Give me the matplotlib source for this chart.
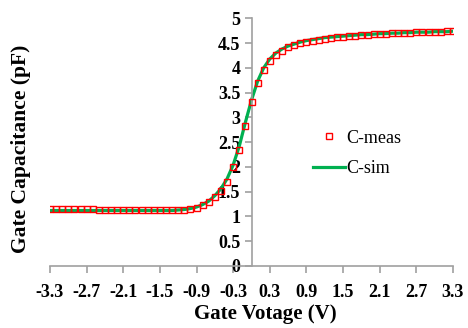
import matplotlib
matplotlib.use("Agg")
import matplotlib.pyplot as plt
import numpy as np

# gate voltage, 0.1 V steps
volts = np.round(np.arange(-3.3, 3.31, 0.1), 1)

c_meas = [
    1.15, 1.15, 1.15, 1.15, 1.15, 1.15, 1.15, 1.15, 1.14, 1.14,
    1.14, 1.14, 1.14, 1.14, 1.14, 1.14, 1.13, 1.13, 1.13, 1.13,
    1.13, 1.13, 1.14, 1.16, 1.18, 1.23, 1.30, 1.40, 1.52, 1.70,
    1.99, 2.34, 2.83, 3.31, 3.69, 3.95, 4.13, 4.26, 4.34, 4.42,
    4.46, 4.50, 4.53, 4.55, 4.57, 4.59, 4.61, 4.62, 4.63, 4.64,
    4.65, 4.66, 4.67, 4.68, 4.68, 4.69, 4.70, 4.70, 4.71, 4.71,
    4.72, 4.72, 4.73, 4.73, 4.73, 4.74, 4.74,
]
c_sim = [
    1.12, 1.12, 1.12, 1.12, 1.12, 1.12, 1.12, 1.12, 1.12, 1.12,
    1.12, 1.12, 1.12, 1.12, 1.12, 1.12, 1.12, 1.12, 1.12, 1.12,
    1.12, 1.13, 1.14, 1.16, 1.19, 1.24, 1.31, 1.42, 1.56, 1.76,
    2.04, 2.42, 2.90, 3.35, 3.73, 4.00, 4.18, 4.30, 4.38, 4.44,
    4.48, 4.52, 4.55, 4.57, 4.59, 4.61, 4.62, 4.63, 4.64, 4.65,
    4.66, 4.67, 4.67, 4.68, 4.69, 4.69, 4.70, 4.70, 4.71, 4.71,
    4.72, 4.72, 4.72, 4.73, 4.73, 4.73, 4.74,
]

xticks = [-3.3, -2.7, -2.1, -1.5, -0.9, -0.3, 0.3, 0.9, 1.5, 2.1, 2.7, 3.3]
yticks = [0, 0.5, 1, 1.5, 2, 2.5, 3, 3.5, 4, 4.5, 5]

plt.rcParams["font.family"] = ["Liberation Serif", "DejaVu Serif"]

fig = plt.figure(figsize=(4.68, 3.28), dpi=100)
ax = fig.add_axes([50 / 468, 1 - 266 / 328, 403 / 468, 247.7 / 328])

ax.plot(volts, c_sim, color="#00b050", lw=2.3, label="C-sim", zorder=2)
ax.plot(volts, c_meas, ls="none", marker="s", ms=4.2, mfc="none", mec="#ff0000",
        mew=1.0, label="C-meas", zorder=3)

ax.set_xlim(-3.3, 3.3)
ax.set_ylim(0, 5)
ax.set_xticks(xticks)
ax.set_xticklabels([f"{t:g}" for t in xticks])
ax.set_yticks(yticks)
ax.set_yticklabels([f"{t:g}" for t in yticks])

gray = "#a0a0a0"
ax.spines["left"].set_position(("data", 0))
ax.spines["right"].set_visible(False)
ax.spines["top"].set_visible(False)
for s in ("left", "bottom"):
    ax.spines[s].set_color(gray)
    ax.spines[s].set_linewidth(1.2)
ax.tick_params(axis="both", direction="out", length=5, width=1.2, color=gray,
               labelsize=13, pad=3)
ax.tick_params(axis="x", pad=8)
for lab in ax.get_xticklabels() + ax.get_yticklabels():
    lab.set_fontweight("bold")

ax.set_xlabel("Gate Votage (V)", fontsize=15, fontweight="bold")
ax.set_ylabel("Gate Capacitance (pF)", fontsize=15.5, fontweight="bold")
ax.yaxis.set_label_coords(-0.047, 0.472)
ax.xaxis.set_label_coords(0.534, -0.155)

handles, labels = ax.get_legend_handles_labels()
ax.legend(handles[::-1], labels[::-1], loc="center left",
          bbox_to_anchor=(0.613, 0.454), frameon=False, fontsize=13,
          handlelength=1.75, handletextpad=0.1, labelspacing=0.75)

fig.savefig("out.png", dpi=100)
